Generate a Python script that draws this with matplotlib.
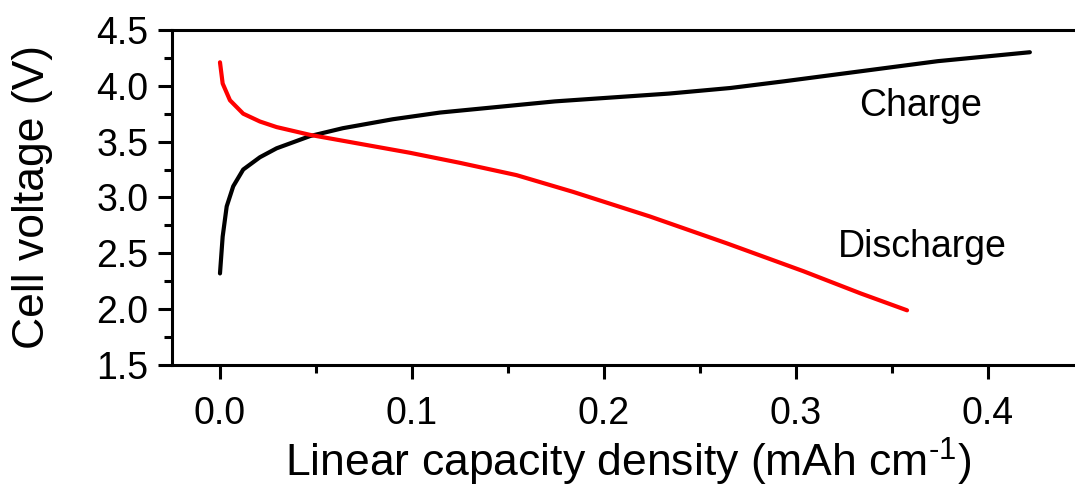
"""Charge / discharge voltage profiles vs linear capacity density."""

import matplotlib

matplotlib.use("Agg")
import matplotlib.pyplot as plt
from matplotlib.ticker import MultipleLocator

# values
charge_x = [0.0, 0.0014, 0.0035, 0.0069, 0.0121, 0.0208, 0.0295, 0.047, 0.064,
            0.090, 0.1146, 0.1745, 0.234, 0.266, 0.294, 0.334, 0.374, 0.422]
charge_v = [2.32, 2.65, 2.92, 3.10, 3.25, 3.36, 3.44, 3.55, 3.62,
            3.70, 3.76, 3.86, 3.93, 3.98, 4.04, 4.13, 4.22, 4.30]

discharge_x = [0.0, 0.0014, 0.0052, 0.0121, 0.0208, 0.0295, 0.047, 0.073, 0.099,
               0.125, 0.1545, 0.184, 0.224, 0.264, 0.304, 0.334, 0.358]
discharge_v = [4.21, 4.02, 3.87, 3.75, 3.68, 3.63, 3.56, 3.48, 3.40,
               3.31, 3.20, 3.05, 2.83, 2.59, 2.34, 2.14, 1.99]

labels = {"Charge": (0.365, 3.82), "Discharge": (0.366, 2.56)}

plt.rcParams["font.family"] = ["Liberation Sans", "DejaVu Sans"]
plt.rcParams["mathtext.fontset"] = "custom"
plt.rcParams["mathtext.rm"] = "Liberation Sans"
plt.rcParams["mathtext.it"] = "Liberation Sans"

fig = plt.figure(figsize=(10.75, 4.9), dpi=100)
ax = fig.add_axes([0.16, 0.255, 0.848, 0.684])

ax.plot(charge_x, charge_v, color="black", lw=3.0,
        solid_capstyle="round", solid_joinstyle="round")
ax.plot(discharge_x, discharge_v, color="#ff0000", lw=3.0,
        solid_capstyle="round", solid_joinstyle="round")

for txt, (x, y) in labels.items():
    ax.text(x, y, txt, fontsize=27, ha="center", va="center")

ax.set_xlim(-0.025, 0.45)
ax.set_ylim(1.5, 4.5)
ax.xaxis.set_major_locator(MultipleLocator(0.1))
ax.xaxis.set_minor_locator(MultipleLocator(0.05))
ax.yaxis.set_major_locator(MultipleLocator(0.5))
ax.yaxis.set_minor_locator(MultipleLocator(0.25))
ax.xaxis.set_major_formatter(lambda v, pos: f"{v:.1f}")
ax.yaxis.set_major_formatter(lambda v, pos: f"{v:.1f}")

for s in ax.spines.values():
    s.set_linewidth(2.2)
ax.spines["right"].set_visible(False)
ax.tick_params(which="both", direction="out", width=2.2, labelsize=27,
               top=False, right=False)
ax.tick_params(which="major", length=10)
ax.tick_params(which="minor", length=6)
ax.tick_params(axis="x", pad=12)
ax.tick_params(axis="y", pad=7)

ax.set_xlabel(r"Linear capacity density (mAh cm$^{\text{-1}}$)", fontsize=32)
ax.set_ylabel("Cell voltage (V)", fontsize=32)
ax.xaxis.set_label_coords(0.5, -0.21)
ax.yaxis.set_label_coords(-0.13, 0.5)

fig.savefig("out.png", dpi=100)
